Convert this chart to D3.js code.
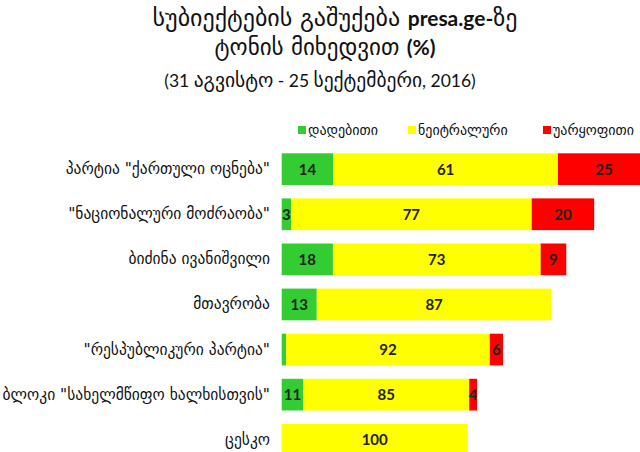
<!DOCTYPE html>
<html><head><meta charset="utf-8">
<script src="https://cdn.jsdelivr.net/npm/d3@7/dist/d3.min.js"></script>
<style>
body{margin:0;background:#fff;}
svg{display:block;}
</style></head>
<body><svg id="chart" width="640" height="452"></svg>
<script>
const categories = [
  'პარტია "ქართული ოცნება"',
  '"ნაციონალური მოძრაობა"',
  'ბიძინა ივანიშვილი',
  'მთავრობა',
  '"რესპუბლიკური პარტია"',
  'ბლოკი "სახელმწიფო ხალხისთვის"',
  'ცესკო'
];
const seriesNames = ['დადებითი', 'ნეიტრალური', 'უარყოფითი'];
const positive = [14, 3, 18, 13, 2, 11, 0];
const neutral  = [61, 77, 73, 87, 92, 85, 100];
const negative = [25, 20, 9, 0, 6, 4, 0];
// relative coverage volume (bar length), ცესკო = 100
const volume = [198, 168, 153, 145, 119, 105, 100];
const colors = ['#33cc33', '#ffff00', '#ff0000'];

const svg = d3.select('#chart');
const geo = "'DejaVu Sans',sans-serif";
const lat = "Lato,'DejaVu Sans',sans-serif";

// title
const t1 = svg.append('text').attr('x', 335).attr('y', 26).attr('text-anchor', 'middle')
  .style('font-family', geo).style('font-size', '24px').attr('fill', '#111');
t1.append('tspan').text('სუბიექტების გაშუქება ');
t1.append('tspan').text('presa.ge-').style('font-family', lat).style('font-weight', 'bold').style('font-size', '21px');
t1.append('tspan').text('ზე');
const t2 = svg.append('text').attr('x', 325).attr('y', 55).attr('text-anchor', 'middle')
  .style('font-family', geo).style('font-size', '23px').attr('fill', '#111');
t2.append('tspan').text('ტონის მიხედვით ');
t2.append('tspan').text('(%)').style('font-family', lat).style('font-weight', 'bold').style('font-size', '21px');
const t3 = svg.append('text').attr('x', 320).attr('y', 87).attr('text-anchor', 'middle')
  .style('font-family', lat).style('font-size', '17.5px').attr('fill', '#111');
t3.append('tspan').text('(31 ');
t3.append('tspan').text('აგვისტო').style('font-family', geo).style('font-size', '19.5px');
t3.append('tspan').text(' - 25 ');
t3.append('tspan').text('სექტემბერი').style('font-family', geo).style('font-size', '19.5px');
t3.append('tspan').text(', 2016)');

// scales
const x = d3.scaleLinear().domain([0, 100]).range([281.7, 467.7]);
const y = d3.scaleBand().domain(categories).range([153.3, 455.6]).paddingInner(0.297).paddingOuter(0);

const rows = categories.map((c, i) => {
  const vals = [positive[i], neutral[i], negative[i]];
  let acc = 0;
  return vals.map((v, k) => {
    const len = volume[i] * v / 100;
    const seg = {cat: c, k, v, x0: acc, x1: acc + len};
    acc += len;
    return seg;
  });
});

const g = svg.append('g');
rows.forEach(segs => {
  segs.filter(s => s.v > 0).forEach(s => {
    g.append('rect')
      .attr('x', x(s.x0)).attr('y', y(s.cat))
      .attr('width', x(s.x1) - x(s.x0)).attr('height', y.bandwidth())
      .attr('fill', colors[s.k]);
  });
  segs.filter(s => s.v >= 3).forEach(s => {
    g.append('text')
      .attr('x', (x(s.x0) + x(s.x1)) / 2)
      .attr('y', y(s.cat) + y.bandwidth() / 2)
      .attr('dy', '0.36em').attr('text-anchor', 'middle')
      .style('font-family', lat).style('font-weight', 'bold').style('font-size', '15px')
      .attr('fill', '#222').text(s.v);
  });
});

// category axis
const yAxis = d3.axisLeft(y).tickSize(0).tickPadding(0);
const ag = svg.append('g').attr('transform', 'translate(270,0)').call(yAxis);
ag.select('.domain').remove();
ag.selectAll('text').style('font-family', geo).style('font-size', '15.5px').attr('fill', '#111');

// legend
const legX = [298, 408, 543];
seriesNames.forEach((n, k) => {
  svg.append('rect').attr('x', legX[k]).attr('y', 126).attr('width', 8).attr('height', 8).attr('fill', colors[k]);
  svg.append('text').attr('x', legX[k] + 10).attr('y', 130).attr('dy', '0.36em')
    .style('font-family', geo).style('font-size', '14px').attr('fill', '#111').text(n);
});
</script></body></html>
